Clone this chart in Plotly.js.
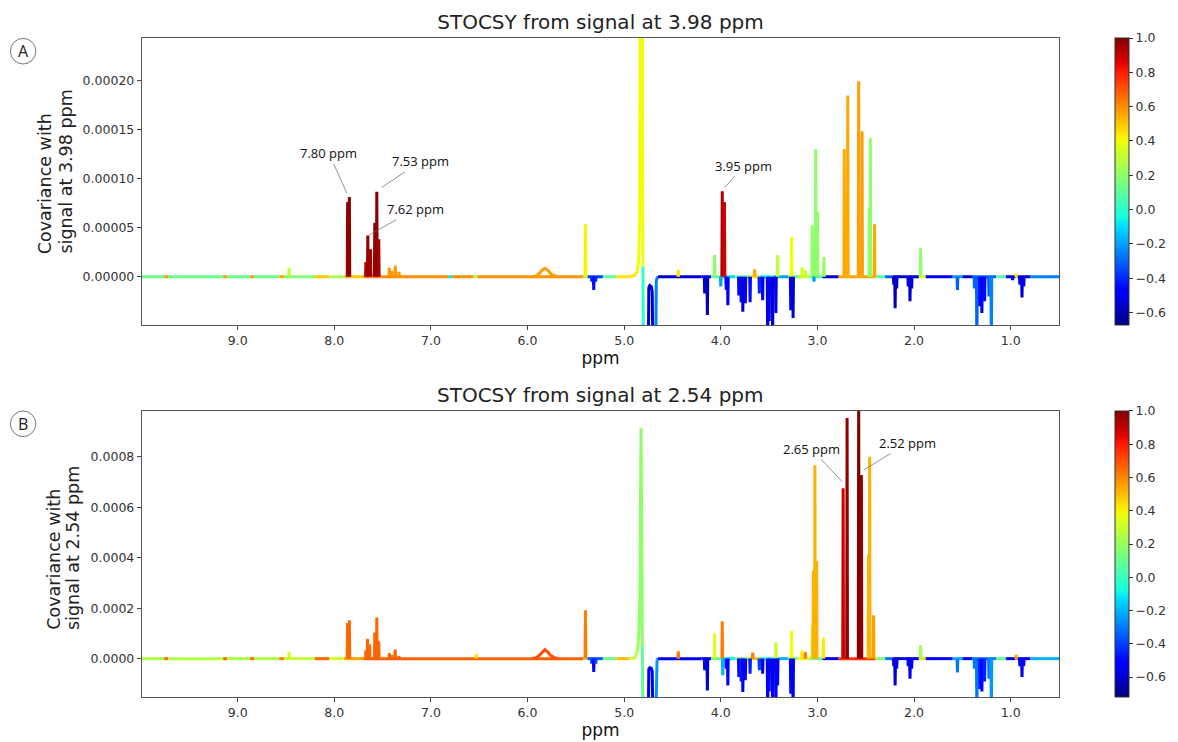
<!DOCTYPE html>
<html><head><meta charset="utf-8">
<script src="https://cdn.plot.ly/plotly-3.0.1.min.js"></script>
<style>body{margin:0;background:#fff}#chart{width:1178px;height:742px}</style>
</head><body><div id="chart"></div>
<script>
// ---------------- DATA ----------------
const xTicks = [9, 8, 7, 6, 5, 4, 3, 2, 1];
const cbTicks = [-0.6, -0.4, -0.2, 0.0, 0.2, 0.4, 0.6, 0.8, 1.0];
const yTicksA = [0, 0.00005, 0.0001, 0.00015, 0.0002];
const yTicksB = [0, 0.0002, 0.0004, 0.0006, 0.0008];
const corrRangeA = [-0.672, 1.0];
const corrRangeB = [-0.72, 1.0];

// Panel A: STOCSY from signal at 3.98 ppm — positive peaks
const peakPpmA = [8.468, 7.862, 7.844, 7.673, 7.653, 7.625, 7.581, 7.560, 7.540, 7.43, 7.405, 7.368, 7.33, 5.401, 4.44, 4.064, 3.985, 3.962, 3.65, 3.412, 3.268, 3.16, 3.125, 3.053, 3.018, 3.0, 2.933, 2.722, 2.686, 2.573, 2.538, 2.463, 2.452, 2.409, 1.932, 0.944];
const peakCovA = [9.1e-6, 7.6e-5, 8.1e-5, 1.5e-5, 4.2e-5, 2.8e-5, 5.5e-5, 8.65e-5, 3.8e-5, 9e-6, 6e-6, 1.1e-5, 5e-6, 5.35e-5, 7e-6, 2.2e-5, 8.7e-5, 7.6e-5, 7.5e-6, 2.2e-5, 4.05e-5, 9.5e-6, 6.8e-6, 5.25e-5, 1.3e-4, 6.6e-5, 2.0e-5, 1.3e-4, 1.845e-4, 1.99e-4, 1.48e-4, 7.0e-5, 1.41e-4, 5.35e-5, 2.9e-5, 3e-6];
const peakCorrA = [0.3, 0.97, 0.98, 0.9, 0.97, 0.95, 0.97, 0.98, 0.95, 0.58, 0.58, 0.58, 0.58, 0.42, 0.45, 0.2, 0.93, 0.88, 0.55, 0.3, 0.4, 0.33, 0.33, 0.2, 0.2, 0.2, 0.22, 0.55, 0.55, 0.57, 0.57, 0.2, 0.2, 0.55, 0.2, 0.45];
// Panel A — negative peaks
const dipPpmA = [5.335, 5.315, 5.295, 4.167, 4.139, 4.0, 3.944, 3.927, 3.813, 3.79, 3.772, 3.746, 3.697, 3.601, 3.567, 3.515, 3.499, 3.464, 3.43, 3.276, 3.252, 3.036, 2.21, 2.196, 2.18, 2.06, 2.042, 2.025, 1.551, 1.375, 1.35, 1.32, 1.298, 1.27, 1.225, 1.2, 0.98, 0.905, 0.883, 0.865];
const dipCovA = [-5e-6, -1.35e-5, -5e-6, -1.7e-5, -3.9e-5, -1e-5, -1.35e-5, -2.9e-5, -1.9e-5, -2.6e-5, -3.56e-5, -2.7e-5, -2.6e-5, -1.7e-5, -2.4e-5, -8e-5, -4.5e-5, -8e-5, -3.7e-5, -3.4e-5, -4.2e-5, -5e-6, -8e-6, -3.2e-5, -1.2e-5, -1e-5, -2.5e-5, -1.2e-5, -1.35e-5, -1.2e-5, -8e-5, -3e-5, -3.7e-5, -2.5e-5, -2e-5, -8e-5, -3.5e-6, -8e-6, -2.1e-5, -1e-5];
const dipCorrA = [-0.4, -0.45, -0.4, -0.55, -0.6, -0.2, -0.45, -0.5, -0.5, -0.45, -0.55, -0.5, -0.45, -0.4, -0.5, -0.55, -0.5, -0.55, -0.5, -0.5, -0.55, -0.2, -0.55, -0.6, -0.55, -0.55, -0.55, -0.55, -0.3, -0.3, -0.3, -0.45, -0.5, -0.45, -0.3, -0.25, -0.45, -0.5, -0.55, -0.5];
// Panel A — baseline colour segments (breakpoints, corr of each segment)
const basePpmA = [9.99, 9.76, 9.72, 9.15, 9.11, 8.87, 8.83, 8.57, 8.52, 8.2, 8.05, 7.9, 7.7, 6.82, 6.78, 6.56, 6.52, 5.42, 5.38, 5.22, 5.08, 4.95, 4.65, 4.2, 4.1, 3.98, 3.85, 3.7, 3.6, 3.45, 3.3, 3.2, 3.08, 2.95, 2.78, 2.4, 2.3, 2.22, 1.95, 1.88, 1.6, 1.5, 1.4, 1.15, 1.05, 0.95, 0.93, 0.8, 0.5];
const baseCorrA = [0.13, 0.58, 0.13, 0.58, 0.13, 0.58, 0.13, 0.55, 0.18, 0.5, 0.25, 0.5, 0.6, -0.1, 0.6, 0.3, 0.59, 0.25, -0.35, 0.12, 0.45, null, -0.55, -0.5, 0.1, -0.1, 0.12, 0.45, -0.05, -0.2, 0.12, 0.3, 0.08, -0.55, 0.55, 0.08, -0.3, -0.55, 0.4, -0.5, -0.2, -0.55, -0.3, 0.08, -0.55, 0.4, -0.55, -0.25];
// Panel A — broad hump at 5.8 ppm
const humpPpmA = [5.95, 5.91, 5.88, 5.85, 5.82, 5.79, 5.76, 5.72, 5.68];
const humpCovA = [0, 1e-6, 3e-6, 6.5e-6, 8.5e-6, 6.5e-6, 3e-6, 1e-6, 0];
const humpCorrA = 0.57;
// Panel A — water region 4.95–4.65 ppm
const waterPpmA = [4.95, 4.90, 4.88, 4.865, 4.855, 4.847, 4.84, 4.832, 4.815, 4.806, 4.80, 4.79, 4.752, 4.745, 4.735, 4.72, 4.71, 4.70, 4.675, 4.668, 4.66, 4.65];
const waterCovA = [0, 1e-6, 2.5e-6, 6e-6, 1.2e-5, 2.5e-5, 6e-5, 4e-4, 4e-4, 1e-5, -1e-4, -1e-4, -1e-4, -1.1e-5, -9e-6, -1e-5, -1.5e-5, -1e-4, -1e-4, -5e-6, -1e-6, 0];
const waterCorrA = [0.45, 0.44, 0.42, 0.41, 0.4, 0.4, 0.4, 0.4, 0.4, 0.0, -0.3, -0.5, -0.55, -0.55, -0.55, -0.55, -0.55, -0.3, -0.25, -0.25, -0.35];

// Panel B: STOCSY from signal at 2.54 ppm — positive peaks
const peakPpmB = [8.468, 7.862, 7.844, 7.673, 7.656, 7.635, 7.581, 7.560, 7.540, 7.43, 7.405, 7.37, 7.33, 6.53, 5.401, 4.44, 4.064, 3.985, 3.67, 3.43, 3.268, 3.16, 3.125, 3.053, 3.042, 3.026, 3.008, 2.939, 2.734, 2.693, 2.573, 2.545, 2.471, 2.46, 2.419, 1.932, 0.944];
const peakCovB = [2.6e-5, 1.41e-4, 1.52e-4, 3.3e-5, 7.9e-5, 5.7e-5, 1.03e-4, 1.63e-4, 6.9e-5, 2.2e-5, 1.4e-5, 3.6e-5, 9e-6, 1.7e-5, 1.92e-4, 2.9e-5, 9.9e-5, 1.48e-4, 2.4e-5, 6.5e-5, 1.1e-4, 3.3e-5, 2.6e-5, 1.32e-4, 3.48e-4, 7.66e-4, 3.87e-4, 8.3e-5, 6.75e-4, 9.53e-4, 1.05e-3, 7.27e-4, 4.1e-4, 8.0e-4, 1.72e-4, 5.3e-5, 1.5e-5];
const peakCorrB = [0.35, 0.66, 0.66, 0.66, 0.66, 0.66, 0.66, 0.66, 0.66, 0.66, 0.66, 0.66, 0.66, 0.45, 0.62, 0.62, 0.33, 0.62, 0.62, 0.3, 0.38, 0.42, 0.62, 0.25, 0.52, 0.52, 0.52, 0.42, 0.88, 0.97, 1.0, 0.97, 0.52, 0.52, 0.55, 0.22, 0.55];
// Panel B — negative peaks
const dipPpmB = [5.335, 5.315, 5.295, 4.167, 4.139, 3.98, 3.944, 3.927, 3.813, 3.79, 3.772, 3.746, 3.697, 3.601, 3.567, 3.515, 3.499, 3.464, 3.43, 3.412, 3.276, 3.252, 2.21, 2.196, 2.18, 2.06, 2.042, 2.025, 1.551, 1.375, 1.35, 1.32, 1.298, 1.27, 1.225, 1.2, 0.905, 0.883, 0.865];
const dipCovB = [-2e-5, -5.3e-5, -2e-5, -4.6e-5, -1.26e-4, -6.6e-5, -4e-5, -1.06e-4, -7.3e-5, -9e-5, -1.32e-4, -8.6e-5, -6e-5, -4.6e-5, -6e-5, -2.5e-4, -1.3e-4, -2.5e-4, -2.5e-4, -1.06e-4, -1.39e-4, -2.5e-4, -3e-5, -1.06e-4, -4e-5, -3e-5, -8e-5, -4e-5, -5.5e-5, -4e-5, -2.5e-4, -1.2e-4, -1.3e-4, -9e-5, -8e-5, -2.5e-4, -3e-5, -7.3e-5, -3e-5];
const dipCorrB = [-0.4, -0.5, -0.4, -0.55, -0.6, -0.2, -0.45, -0.5, -0.5, -0.45, -0.55, -0.5, -0.45, -0.4, -0.5, -0.55, -0.5, -0.55, -0.5, -0.5, -0.5, -0.55, -0.55, -0.6, -0.55, -0.55, -0.55, -0.55, -0.3, -0.3, -0.3, -0.45, -0.5, -0.45, -0.3, -0.25, -0.5, -0.55, -0.5];
// Panel B — baseline colour segments
const basePpmB = [9.99, 9.76, 9.72, 9.15, 9.11, 8.87, 8.83, 8.57, 8.52, 8.2, 8.05, 7.9, 7.7, 5.42, 5.38, 5.22, 5.08, 4.95, 4.65, 4.2, 4.1, 3.98, 3.85, 3.7, 3.6, 3.45, 3.3, 3.2, 3.08, 2.95, 2.78, 2.4, 2.3, 2.22, 1.95, 1.88, 1.6, 1.5, 1.4, 1.15, 1.05, 0.95, 0.93, 0.8, 0.5];
const baseCorrB = [0.25, 0.66, 0.25, 0.66, 0.25, 0.66, 0.25, 0.62, 0.28, 0.66, 0.32, 0.55, 0.67, 0.25, -0.35, 0.12, 0.5, null, -0.55, -0.5, 0.1, -0.1, 0.15, 0.5, -0.05, -0.2, 0.12, 0.4, 0.08, -0.55, 0.75, 0.15, -0.3, -0.55, 0.45, -0.5, -0.2, -0.55, -0.3, 0.08, -0.55, 0.55, -0.55, -0.2];
// Panel B — broad hump
const humpPpmB = [5.95, 5.91, 5.88, 5.85, 5.82, 5.79, 5.76, 5.72, 5.68];
const humpCovB = [0, 4e-6, 1.2e-5, 2.6e-5, 3.6e-5, 2.6e-5, 1.2e-5, 4e-6, 0];
const humpCorrB = 0.7;
// Panel B — water region
const waterPpmB = [4.95, 4.90, 4.885, 4.87, 4.855, 4.845, 4.838, 4.832, 4.826, 4.818, 4.812, 4.806, 4.79, 4.752, 4.745, 4.735, 4.72, 4.71, 4.70, 4.675, 4.668, 4.66, 4.65];
const waterCovB = [0, 2e-6, 6e-6, 2e-5, 6e-5, 1.3e-4, 2.5e-4, 5e-4, 9.15e-4, 5e-4, 5e-5, -3e-4, -3e-4, -3e-4, -4.2e-5, -3.6e-5, -3.8e-5, -5e-5, -3e-4, -3e-4, -2e-5, -4e-6, 0];
const waterCorrB = [0.3, 0.3, 0.27, 0.22, 0.18, 0.18, 0.18, 0.18, 0.18, 0.18, 0.08, -0.05, -0.5, -0.55, -0.55, -0.55, -0.55, -0.55, -0.3, -0.25, -0.25, -0.35];

// ---------------- COLOUR (matplotlib jet) ----------------
const jetStops = [
  [0, 0, 0, 128], [0.11, 0, 0, 255], [0.125, 0, 0, 255], [0.34, 0, 219, 255],
  [0.35, 0, 230, 247], [0.375, 21, 255, 226], [0.64, 239, 255, 8], [0.65, 247, 245, 0],
  [0.66, 255, 236, 0], [0.89, 255, 19, 0], [0.91, 232, 0, 0], [1, 128, 0, 0]
];
const jetScale = jetStops.map(s => [s[0], `rgb(${s[1]},${s[2]},${s[3]})`]);
function jet(t) {
  t = Math.max(0, Math.min(1, t));
  for (let i = 1; i < jetStops.length; i++) {
    const a = jetStops[i - 1], b = jetStops[i];
    if (t <= b[0]) {
      const f = (t - a[0]) / (b[0] - a[0] || 1);
      const c = [1, 2, 3].map(k => Math.round(a[k] + f * (b[k] - a[k])));
      return `rgb(${c[0]},${c[1]},${c[2]})`;
    }
  }
  return 'rgb(128,0,0)';
}

// ---------------- TRACES ----------------
const LW = 3;
const HW = 0.004;
const traces = [];
function colorOf(c, rng) { return jet((c - rng[0]) / (rng[1] - rng[0])); }
function seg(xs, ys, col, ax) {
  traces.push({type: 'scatter', mode: 'lines', x: xs, y: ys, xaxis: ax[0], yaxis: ax[1],
    line: {color: col, width: LW}, hoverinfo: 'skip', showlegend: false});
}
function path(xs, ys, cs, rng, ax) {
  let i = 0;
  while (i < cs.length) {
    if (cs[i] === null) { i++; continue; }
    let j = i;
    while (j + 1 < cs.length && cs[j + 1] === cs[i]) j++;
    seg(xs.slice(i, j + 2), ys.slice(i, j + 2), colorOf(cs[i], rng), ax);
    i = j + 1;
  }
}
function sticks(ps, vs, cs, rng, ax) {
  ps.forEach((p, i) => seg([p + HW, p, p - HW], [0, vs[i], 0], colorOf(cs[i], rng), ax));
}
function panel(d, rng, ax) {
  path(d.base, d.base.map(() => 0), d.baseC, rng, ax);
  path(d.hump, d.humpY, d.hump.slice(1).map(() => d.humpC), rng, ax);
  path(d.water, d.waterY, d.waterC, rng, ax);
  sticks(d.peak, d.peakY, d.peakC, rng, ax);
  sticks(d.dip, d.dipY, d.dipC, rng, ax);
}
panel({base: basePpmA, baseC: baseCorrA, hump: humpPpmA, humpY: humpCovA, humpC: humpCorrA,
  water: waterPpmA, waterY: waterCovA, waterC: waterCorrA, peak: peakPpmA, peakY: peakCovA, peakC: peakCorrA,
  dip: dipPpmA, dipY: dipCovA, dipC: dipCorrA}, corrRangeA, ['x', 'y']);
panel({base: basePpmB, baseC: baseCorrB, hump: humpPpmB, humpY: humpCovB, humpC: humpCorrB,
  water: waterPpmB, waterY: waterCovB, waterC: waterCorrB, peak: peakPpmB, peakY: peakCovB, peakC: peakCorrB,
  dip: dipPpmB, dipY: dipCovB, dipC: dipCorrB}, corrRangeB, ['x2', 'y2']);

const tickFont = {family: 'DejaVu Sans', size: 12.5, color: '#333'};
function cbar(rng, ax, y, len) {
  traces.push({type: 'scatter', mode: 'markers', x: [5], y: [0], xaxis: ax[0], yaxis: ax[1],
    hoverinfo: 'skip', showlegend: false,
    marker: {size: 1, opacity: 0, color: [0], colorscale: jetScale, cmin: rng[0], cmax: rng[1], showscale: true,
      colorbar: {x: 1.0606, xanchor: 'left', y: y, yanchor: 'top', len: len, lenmode: 'fraction',
        thickness: 14, thicknessmode: 'pixels', xpad: 0, ypad: 0, outlinewidth: 1, outlinecolor: '#333',
        tickmode: 'array', tickvals: cbTicks, tickformat: '.1f', ticks: 'outside', ticklen: 4,
        tickcolor: '#333', tickfont: tickFont}}});
}
cbar(corrRangeA, ['x', 'y'], 1.0, 0.436);
cbar(corrRangeB, ['x2', 'y2'], 0.434, 0.434);

// ---------------- LAYOUT ----------------
const axisStyle = {showgrid: false, zeroline: false, showline: true, mirror: true, linecolor: '#555', linewidth: 1.2,
  ticks: 'outside', ticklen: 4, tickwidth: 1, tickcolor: '#444', tickfont: tickFont};
const xStyle = Object.assign({}, axisStyle, {range: [9.99, 0.5], tickmode: 'array', tickvals: xTicks, tickformat: '.1f',
  title: {text: 'ppm', font: {family: 'DejaVu Sans', size: 17, color: '#111'}, standoff: 2}});
const titleFont = {family: 'DejaVu Sans', size: 20, color: '#222'};
const yLabFont = {family: 'DejaVu Sans', size: 17.5, color: '#222'};
const lblFont = {family: 'Open Sans', size: 13, color: '#111'};
function px2x(px) { return (px - 142) / 924; }
function px2y(py) { return (697 - py) / 659; }
function yLab(text, xpx, ypx) {
  return {text: text, xref: 'paper', yref: 'paper', x: px2x(xpx), y: px2y(ypx), textangle: -90,
    xanchor: 'center', yanchor: 'bottom', showarrow: false, font: yLabFont};
}
function pk(text, ax, x, y, dx, dy) {
  return {text: text, xref: ax[0], yref: ax[1], x: x, y: y, ax: dx, ay: dy, showarrow: true,
    arrowhead: 0, arrowwidth: 0.7, arrowcolor: '#666', font: lblFont};
}
function letter(t, cy) {
  return {text: t, xref: 'paper', yref: 'paper', x: px2x(22.2), y: px2y(cy), showarrow: false,
    xanchor: 'center', yanchor: 'middle', font: {family: 'Open Sans', size: 16, color: '#222'}};
}
const layout = {
  width: 1178, height: 742, paper_bgcolor: '#fff', plot_bgcolor: '#fff',
  margin: {l: 142, r: 112, t: 38, b: 45},
  title: {text: 'STOCSY from signal at 3.98 ppm', font: titleFont, x: 0.5, xref: 'paper',
    y: 1 - 22 / 742, yref: 'container', yanchor: 'middle'},
  xaxis: Object.assign({}, xStyle, {anchor: 'y'}),
  xaxis2: Object.assign({}, xStyle, {anchor: 'y2'}),
  yaxis: Object.assign({}, axisStyle, {domain: [0.5645, 1], anchor: 'x', range: [-0.0000491, 0.0002429],
    tickmode: 'array', tickvals: yTicksA, tickformat: '.5f'}),
  yaxis2: Object.assign({}, axisStyle, {domain: [0, 0.434], anchor: 'x2', range: [-0.000152, 0.000981],
    tickmode: 'array', tickvals: yTicksB, tickformat: '.4f'}),
  annotations: [
    {text: 'STOCSY from signal at 2.54 ppm', xref: 'paper', yref: 'paper', x: 0.5, y: px2y(395),
      xanchor: 'center', yanchor: 'middle', showarrow: false, font: titleFont},
    yLab('Covariance with', 45, 256), yLab('signal at 3.98 ppm', 65, 256),
    yLab('Covariance with', 52.5, 632), yLab('signal at 2.54 ppm', 72.5, 632),
    pk('7.80 ppm', ['x', 'y'], 7.869, 8.48e-5, -18, -40),
    pk('7.53 ppm', ['x', 'y'], 7.509, 9.09e-5, 39, -26),
    pk('7.62 ppm', ['x', 'y'], 7.639, 4.24e-5, 46, -26),
    pk('3.95 ppm', ['x', 'y'], 3.961, 9.05e-5, 19, -22),
    pk('2.65 ppm', ['x2', 'y2'], 2.744, 7.01e-4, -31, -33),
    pk('2.52 ppm', ['x2', 'y2'], 2.522, 7.47e-4, 44, -27),
    letter('A', 51.2), letter('B', 423.8)
  ],
  shapes: [
    {type: 'circle', xref: 'paper', yref: 'paper', x0: px2x(9.4), x1: px2x(35), y0: px2y(64), y1: px2y(38.4),
      line: {color: '#555', width: 0.8}},
    {type: 'circle', xref: 'paper', yref: 'paper', x0: px2x(9.4), x1: px2x(35), y0: px2y(436.6), y1: px2y(411),
      line: {color: '#555', width: 0.8}}
  ]
};
Plotly.newPlot('chart', traces, layout, {displayModeBar: false, staticPlot: true});
</script>
</body></html>
